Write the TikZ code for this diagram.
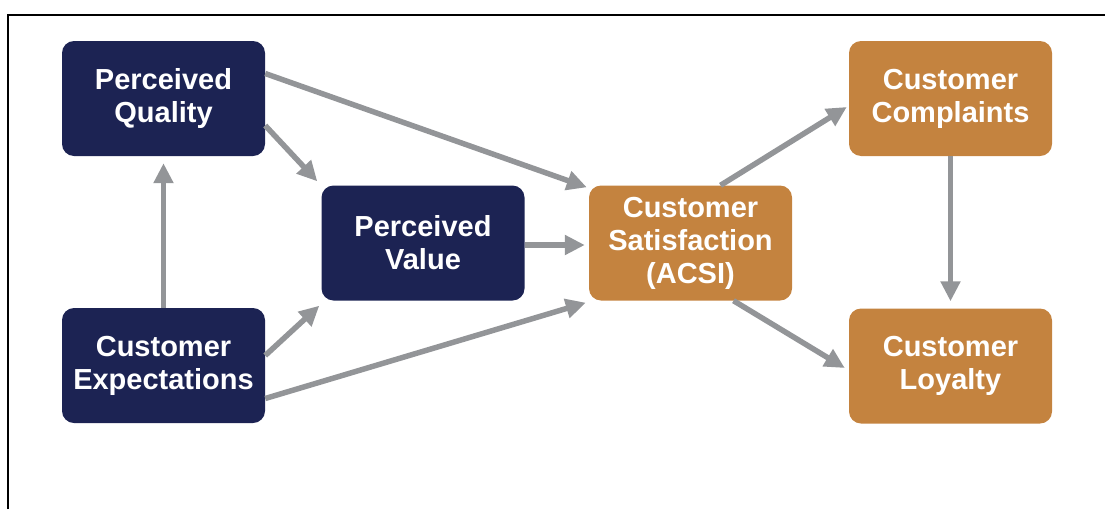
\documentclass[tikz,border=0pt]{standalone}
\usepackage{fontspec}
\setmainfont{Liberation Sans}
\usetikzlibrary{arrows.meta}
\definecolor{navy}{HTML}{1C2353}
\definecolor{ochre}{HTML}{C4833F}
\definecolor{linkgray}{HTML}{939598}
\begin{document}
\begin{tikzpicture}[x=1pt,y=-1pt,
  box/.style={rectangle, rounded corners=12pt, minimum width=203pt, minimum height=115pt,
    inner sep=0pt, text=white, align=center,
    font=\fontsize{29}{33}\selectfont\bfseries},
  driver/.style={box, fill=navy},
  outcome/.style={box, fill=ochre},
  link/.style={draw=linkgray, line width=5.5pt,
    -{Triangle[length=20pt,width=19pt]}}]
  \useasboundingbox (0,0) rectangle (1105,509);
  % frame
  \draw[line width=1.5pt] (8,509) -- (8,15) -- (1105,15);

  % nodes
  \node[driver]  (pq) at (163.5,98.5)  {Perceived\\Quality};
  \node[driver]  (ce) at (163.5,365.5) {Customer\\Expectations};
  \node[driver]  (pv) at (423,243)     {Perceived\\Value};
  \node[outcome] (cs) at (690.5,243)   {Customer\\Satisfaction\\(ACSI)};
  \node[outcome] (cc) at (950.5,98.5)  {Customer\\Complaints};
  \node[outcome] (cl) at (950.5,366)   {Customer\\Loyalty};

  % connectors
  \draw[link] ([yshift=25pt]pq.east) -- ([xshift=-2pt,yshift=-2pt]cs.north west);
  \draw[link] ([yshift=-27pt]pq.east) -- ([xshift=-4pt,yshift=4pt]pv.north west);
  \draw[link, shorten >=7pt] (ce.north) -- (pq.south);
  \draw[link] ([yshift=10pt]ce.east) -- ([xshift=-2pt,yshift=-5pt]pv.south west);
  \draw[link] ([yshift=-33pt]ce.east) -- ([xshift=-3pt,yshift=-2pt]cs.south west);
  \draw[link] ([yshift=-2pt]pv.east) -- ([xshift=-4pt,yshift=-2pt]cs.west);
  \draw[link] ([xshift=30pt]cs.north) -- ([xshift=-2pt,yshift=-8.5pt]cc.west);
  \draw[link] ([xshift=43pt]cs.south) -- ([xshift=-4pt,yshift=-2pt]cl.west);
  \draw[link, shorten >=7pt] (cc.south) -- (cl.north);
\end{tikzpicture}
\end{document}
